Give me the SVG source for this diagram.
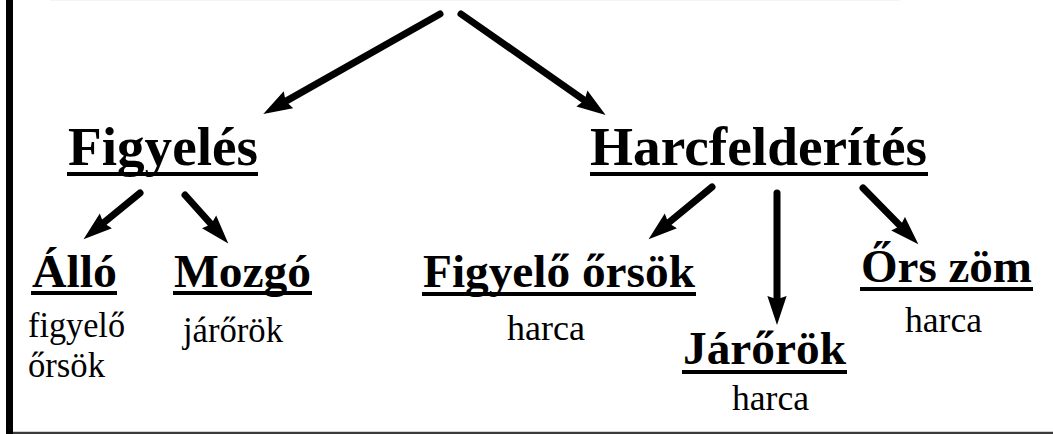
<svg xmlns="http://www.w3.org/2000/svg" width="1053" height="434" viewBox="0 0 1053 434">
<style>
text{font-family:'Liberation Serif','Times New Roman','DejaVu Serif',serif;fill:#000}
.h{font-weight:bold;font-size:54px}
.s{font-weight:bold;font-size:47px}
.b{font-weight:normal;font-size:35px}
.u{fill:#000}
.c{stroke:#000;stroke-width:7;stroke-linecap:round;fill:none;marker-end:url(#ah)}
</style>
<defs>
<marker id="ah" markerUnits="userSpaceOnUse" markerWidth="30" markerHeight="20" viewBox="0 0 28 18" refX="14" refY="9" orient="auto">
<path d="M0,0 L27,9 L0,18 L3,9 z" fill="#000"/>
</marker>
</defs>
<rect x="0" y="0" width="1053" height="434" fill="#fff"/>
<rect x="6" y="0" width="7" height="434" fill="#000"/>
<line x1="50" y1="0.5" x2="900" y2="0.5" stroke="#f4f4f4" stroke-width="1"/>
<line x1="13" y1="431.5" x2="1053" y2="431.5" stroke="#d0d0d0" stroke-width="1"/>
<rect x="13" y="432" width="1040" height="2" fill="#3a3a3a"/>
<g id="connectors">
<line class="c" x1="440" y1="14" x2="275.4" y2="107.1"/>
<line class="c" x1="461" y1="14" x2="594.2" y2="107.1"/>
<line class="c" x1="140" y1="193" x2="94.3" y2="230.4"/>
<line class="c" x1="185" y1="195" x2="219" y2="233"/>
<line class="c" x1="712" y1="187" x2="659.3" y2="230.4"/>
<line class="c" x1="777" y1="193" x2="777" y2="311"/>
<line class="c" x1="863" y1="188" x2="908.6" y2="234.4"/>
</g>
<g id="figyeles">
<text class="h" x="68" y="165" textLength="190" lengthAdjust="spacingAndGlyphs">Figyelés</text>
<rect class="u" x="67" y="172" width="191" height="4"/>
</g>
<g id="harcfelderites">
<text class="h" x="590" y="165" textLength="337" lengthAdjust="spacingAndGlyphs">Harcfelderítés</text>
<rect class="u" x="590" y="172" width="338" height="4"/>
</g>
<g id="allo">
<text class="s" x="32" y="287" textLength="85" lengthAdjust="spacingAndGlyphs">Álló</text>
<rect class="u" x="31" y="291" width="86" height="4"/>
<text class="b" x="28" y="337" textLength="97" lengthAdjust="spacingAndGlyphs">figyelő</text>
<text class="b" x="28" y="377" textLength="77" lengthAdjust="spacingAndGlyphs">őrsök</text>
</g>
<g id="mozgo">
<text class="s" x="174" y="287" textLength="137" lengthAdjust="spacingAndGlyphs">Mozgó</text>
<rect class="u" x="173" y="291" width="139" height="4"/>
<text class="b" x="183" y="342" textLength="100" lengthAdjust="spacingAndGlyphs">járőrök</text>
</g>
<g id="figyelo-orsok">
<text class="s" x="423" y="287" textLength="272" lengthAdjust="spacingAndGlyphs">Figyelő őrsök</text>
<rect class="u" x="422" y="292" width="274" height="4"/>
<text class="b" x="507" y="340" textLength="78" lengthAdjust="spacingAndGlyphs">harca</text>
</g>
<g id="jarorok">
<text class="s" x="683" y="364" textLength="163" lengthAdjust="spacingAndGlyphs">Járőrök</text>
<rect class="u" x="682" y="370" width="165" height="4"/>
<text class="b" x="732" y="410" textLength="77" lengthAdjust="spacingAndGlyphs">harca</text>
</g>
<g id="ors-zom">
<text class="s" x="861" y="282" textLength="171" lengthAdjust="spacingAndGlyphs">Őrs zöm</text>
<rect class="u" x="860" y="287" width="173" height="4"/>
<text class="b" x="905" y="332" textLength="77" lengthAdjust="spacingAndGlyphs">harca</text>
</g>
</svg>
